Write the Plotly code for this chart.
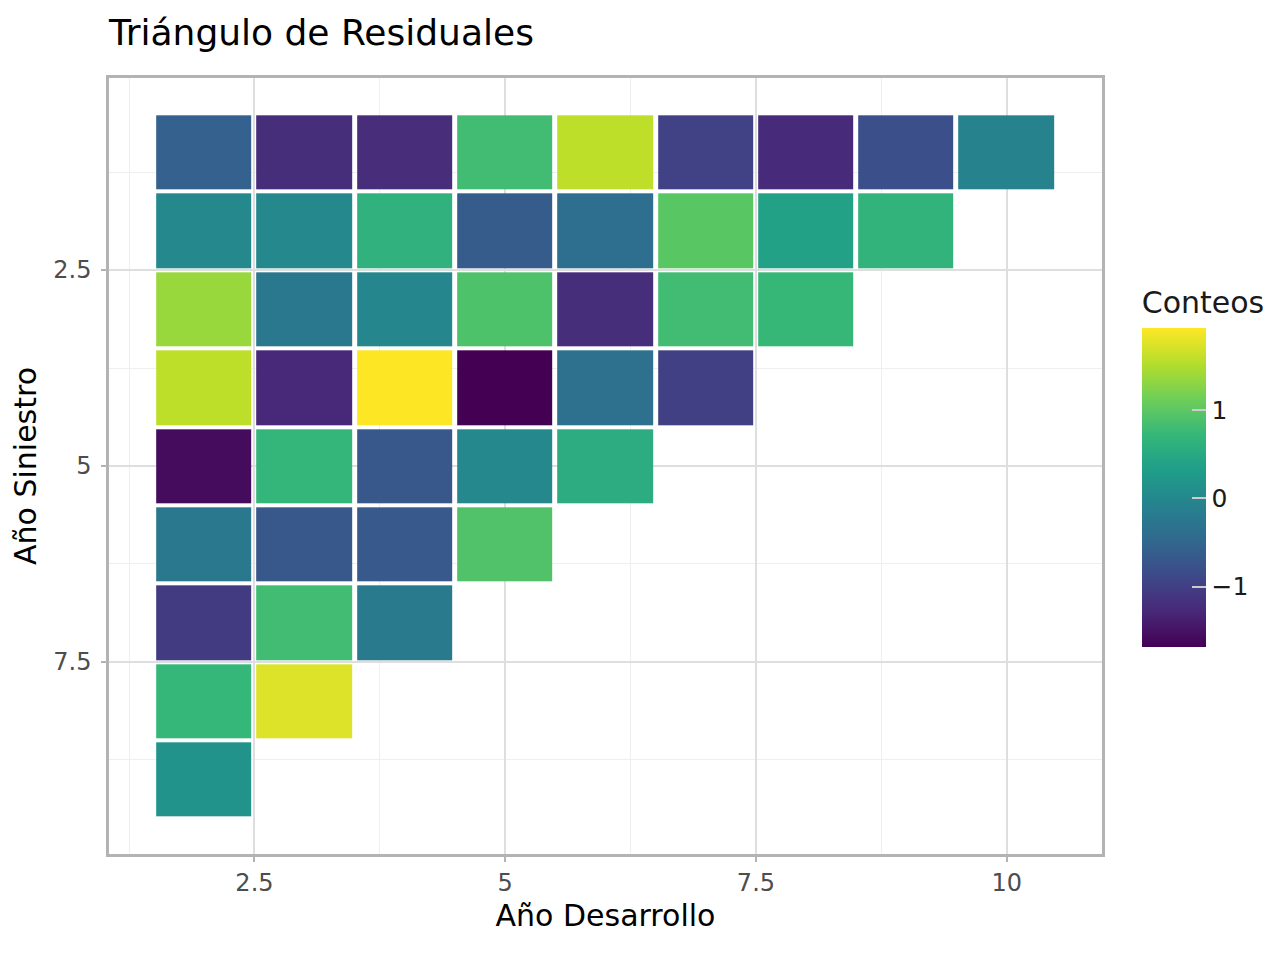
import plotly.graph_objects as go

# triangle of residuals: rows = accident year, cols = development year
dev_years = [2, 3, 4, 5, 6, 7, 8, 9, 10]
acc_years = [1, 2, 3, 4, 5, 6, 7, 8, 9]

row_1 = [-0.56, -1.21, -1.22, 0.82, 1.58, -0.96, -1.25, -0.78, -0.05]
row_2 = [0.02, 0.02, 0.64, -0.63, -0.38, 0.99, 0.38, 0.67]
row_3 = [1.38, -0.23, 0.00, 0.91, -1.21, 0.82, 0.74]
row_4 = [1.58, -1.28, 1.94, -1.68, -0.34, -0.99]
row_5 = [-1.57, 0.71, -0.70, 0.02, 0.56]
row_6 = [-0.23, -0.70, -0.67, 0.93]
row_7 = [-1.05, 0.82, -0.20]
row_8 = [0.73, 1.76]
row_9 = [0.18]

rows = [row_1, row_2, row_3, row_4, row_5, row_6, row_7, row_8, row_9]
z = [r + [None] * (len(dev_years) - len(r)) for r in rows]

cbar_ticks = [-1, 0, 1]
cbar_text = ["\u22121", "0", "1"]

FONT = "DejaVu Sans"
GRID = "#dedede"
MINOR = "#efefef"
BORDER = "#b3b3b3"

heat = go.Heatmap(
    x=dev_years,
    y=acc_years,
    z=z,
    colorscale="Viridis",
    xgap=5,
    ygap=4,
    hoverongaps=False,
    colorbar=dict(
        title=dict(text="Conteos", side="top", font=dict(size=30, color="#1a1a1a")),
        x=1.040, xanchor="left", xpad=0,
        y=0.4987, yanchor="middle", ypad=0,
        thickness=64, thicknessmode="pixels",
        len=359, lenmode="pixels",
        outlinewidth=0,
        ticks="inside", ticklen=14, tickwidth=2, tickcolor="#cccccc",
        tickmode="array", tickvals=cbar_ticks, ticktext=cbar_text,
        tickfont=dict(size=25, color="#1a1a1a"),
    ),
)

layout = go.Layout(
    width=1280, height=960,
    font=dict(family=FONT),
    paper_bgcolor="white",
    plot_bgcolor="white",
    margin=dict(l=101, r=186, t=70, b=114, autoexpand=False),
    title=dict(
        text="Triángulo de Residuales",
        x=0, xref="paper", xanchor="left",
        y=1 - 24 / 960, yref="container", yanchor="middle",
        font=dict(size=36, color="black"),
    ),
    xaxis=dict(
        title=dict(text="Año Desarrollo", font=dict(size=30, color="black"), standoff=10),
        range=[1.05, 10.95], automargin=False,
        tickmode="array", tickvals=[2.5, 5, 7.5, 10], ticktext=["2.5", "5", "7.5", "10"],
        tickfont=dict(size=24, color="#4d4d4d"),
        ticks="outside", ticklen=5, tickwidth=2, tickcolor=BORDER,
        showgrid=True, gridcolor=GRID, gridwidth=2,
        minor=dict(tickmode="array", tickvals=[1.25, 3.75, 6.25, 8.75],
                   showgrid=True, gridcolor=MINOR, gridwidth=1, ticks=""),
        showline=True, mirror=True, linecolor=BORDER, linewidth=2.5,
        zeroline=False,
    ),
    yaxis=dict(
        title=dict(text="Año Siniestro", font=dict(size=30, color="black"), standoff=10),
        range=[9.95, 0.05], automargin=False,
        tickmode="array", tickvals=[2.5, 5, 7.5], ticktext=["2.5", "5", "7.5"],
        tickfont=dict(size=24, color="#4d4d4d"),
        ticks="outside", ticklen=5, tickwidth=2, tickcolor=BORDER,
        ticklabelstandoff=5,
        showgrid=True, gridcolor=GRID, gridwidth=2,
        minor=dict(tickmode="array", tickvals=[1.25, 3.75, 6.25, 8.75],
                   showgrid=True, gridcolor=MINOR, gridwidth=1, ticks=""),
        showline=True, mirror=True, linecolor=BORDER, linewidth=2.5,
        zeroline=False,
    ),
)

fig = go.Figure(data=[heat], layout=layout)
fig.write_html("out.html")
